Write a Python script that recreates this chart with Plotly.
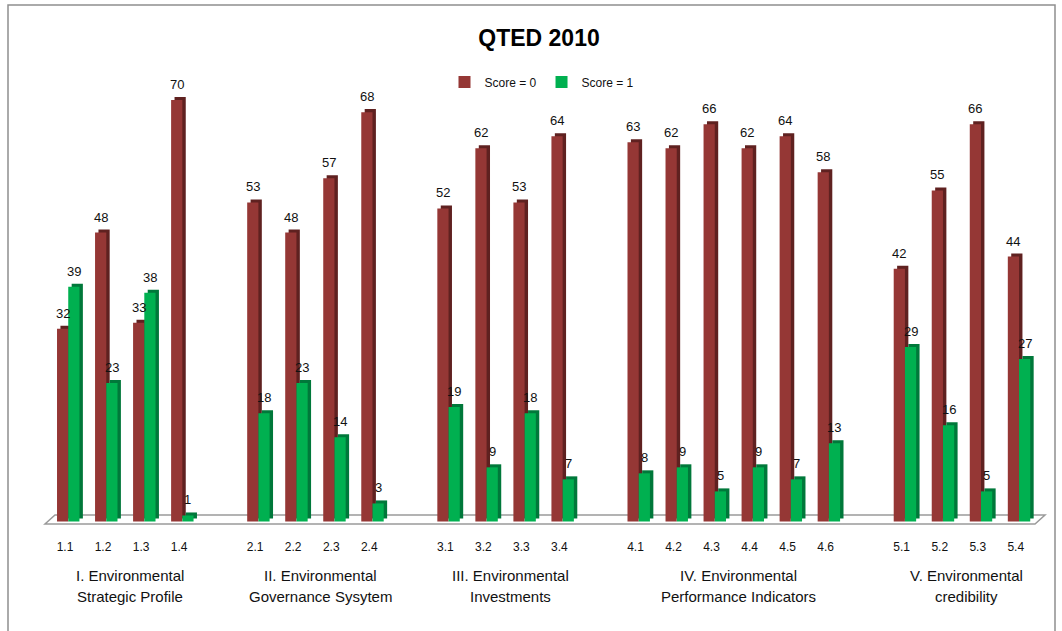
import plotly.graph_objects as go

# --- data -------------------------------------------------------------
group_line1 = ["I. Environmental", "II. Environmental", "III. Environmental",
               "IV. Environmental", "V. Environmental"]
group_line2 = ["Strategic Profile", "Governance Sysytem", "Investments",
               "Performance Indicators", "credibility"]
item_codes = [
    ["1.1", "1.2", "1.3", "1.4"],
    ["2.1", "2.2", "2.3", "2.4"],
    ["3.1", "3.2", "3.3", "3.4"],
    ["4.1", "4.2", "4.3", "4.4", "4.5", "4.6"],
    ["5.1", "5.2", "5.3", "5.4"],
]
score_0 = [32, 48, 33, 70, 53, 48, 57, 68, 52, 62, 53, 64,
           63, 62, 66, 62, 64, 58, 42, 55, 66, 44]
score_1 = [39, 23, 38, 1, 18, 23, 14, 3, 19, 9, 18, 7,
           8, 9, 5, 9, 7, 13, 29, 16, 5, 27]

# --- slot positions: one empty slot between indicator groups ------------
xs, labels, group_centers = [], [], []
slot = 0
for codes in item_codes:
    start = slot
    for c in codes:
        xs.append(slot)
        labels.append(c)
        slot += 1
    group_centers.append((start + slot - 1) / 2)
    slot += 1

# --- styling -----------------------------------------------------------
RED, RED_DARK = "#953735", "#5f2120"
GREEN, GREEN_DARK = "#00b050", "#00783a"
W = 0.295          # bar face width (slot units)
RED_OFF = -0.21    # left edge of the "Score = 0" face relative to the slot
GREEN_OFF = RED_OFF + W
DEPTH = 0.09       # horizontal depth of the pseudo-3D side face
LIFT = 0.5         # vertical depth of the pseudo-3D top face
FONT = "Liberation Sans, Arial, sans-serif"
TEXT = "#111111"

fig = go.Figure()

# back faces (side + top) drawn first, offset up/right
for vals, off, col in [(score_0, RED_OFF, RED_DARK), (score_1, GREEN_OFF, GREEN_DARK)]:
    fig.add_trace(go.Bar(
        x=xs, y=vals, base=LIFT, offset=off + DEPTH, width=W,
        marker=dict(color=col, line=dict(width=0)),
        showlegend=False, hoverinfo="skip"))

# front faces
for vals, off, col, name in [(score_0, RED_OFF, RED, "Score = 0"),
                             (score_1, GREEN_OFF, GREEN, "Score = 1")]:
    fig.add_trace(go.Bar(
        x=xs, y=vals, offset=off, width=W, name=name,
        marker=dict(color=col, line=dict(width=0))))

# value labels above each bar
annotations = []
for vals, off in [(score_0, RED_OFF), (score_1, GREEN_OFF)]:
    for x, v in zip(xs, vals):
        annotations.append(dict(
            x=x + off + W / 2, y=v, xref="x", yref="y", text=str(v),
            showarrow=False, yanchor="bottom", yshift=6,
            font=dict(family=FONT, size=13, color=TEXT)))

# two-line group labels under the item codes
for cx, l1, l2 in zip(group_centers, group_line1, group_line2):
    for txt, yy in [(l1, -0.112), (l2, -0.157)]:
        annotations.append(dict(
            x=cx, y=yy, xref="x", yref="paper", text=txt, showarrow=False,
            xshift=8, yanchor="middle",
            font=dict(family=FONT, size=15, color=TEXT)))

shapes = [
    # chart frame
    dict(type="rect", xref="paper", yref="paper", x0=-0.037, x1=1.01,
         y0=-0.3, y1=1.1185, line=dict(color="#8f8f8f", width=1.5),
         layer="below"),
    # floor slab
    dict(type="path", xref="paper", yref="paper",
         path="M 0 0 L 0.99 0 L 1.0 0.0194 L 0.01 0.0194 Z",
         fillcolor="#ffffff", line=dict(color="#9a9a9a", width=1.5),
         layer="below"),
]

fig.update_layout(
    width=1062, height=631,
    margin=dict(l=45, r=17, t=60, b=107),
    paper_bgcolor="white", plot_bgcolor="rgba(0,0,0,0)",
    barmode="overlay",
    title=dict(text="<b>QTED 2010</b>", x=539 / 1062, xref="container",
               xanchor="center", y=1 - 38 / 631, yref="container",
               yanchor="middle",
               font=dict(family=FONT, size=23, color="#000000")),
    legend=dict(orientation="h", x=0.497, xanchor="center", y=0.9526,
                yanchor="middle", font=dict(family=FONT, size=12, color=TEXT),
                bgcolor="rgba(0,0,0,0)", itemwidth=30),
    xaxis=dict(range=[-0.526, 25.768], tickmode="array", tickvals=xs,
               ticktext=labels, showgrid=False, zeroline=False,
               showline=False, ticks="", ticklabelstandoff=14,
               tickfont=dict(family=FONT, size=12, color=TEXT)),
    yaxis=dict(range=[-0.415, 76.66], visible=False),
    annotations=annotations, shapes=shapes,
    showlegend=True,
)

fig.write_html("out.html")
